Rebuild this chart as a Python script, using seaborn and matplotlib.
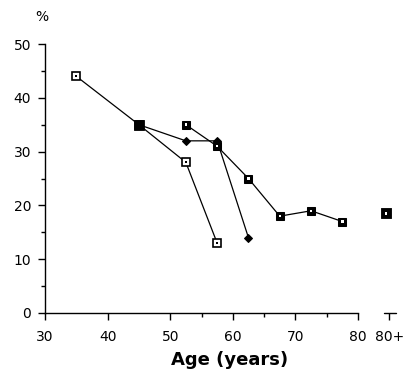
import matplotlib
matplotlib.use("Agg")
import matplotlib.pyplot as plt
import seaborn as sns
import pandas as pd
from matplotlib.transforms import blended_transform_factory

# ---- data ----
open_age = [35, 45, 52.5, 57.5]
open_pct = [44, 35, 28, 13]

diamond_age = [45, 52.5, 57.5, 62.5]
diamond_pct = [35, 32, 32, 14]

filled_age = [52.5, 57.5, 62.5, 67.5, 72.5, 77.5]
filled_pct = [35, 31, 25, 18, 19, 17]

plus_age = [84.5]
plus_pct = [18.5]

x_ticks = [30, 40, 50, 60, 70, 80, 85]
x_ticklabels = ["30", "40", "50", "60", "70", "80", "80+"]
y_ticks = [0, 10, 20, 30, 40, 50]

sns.set_style("ticks")
plt.rcParams['font.family'] = ['DejaVu Sans']

fig = plt.figure(figsize=(4.12, 3.82), dpi=100)
ax = fig.add_axes([45/412, (382-313)/382, (88-30)*6.26/412, (313-44)/382])

df_open = pd.DataFrame({"age": open_age, "pct": open_pct})
df_dia = pd.DataFrame({"age": diamond_age, "pct": diamond_pct})
df_fill = pd.DataFrame({"age": filled_age, "pct": filled_pct})
df_plus = pd.DataFrame({"age": plus_age, "pct": plus_pct})

lw = 0.9
sns.lineplot(data=df_dia, x="age", y="pct", ax=ax, color="black", lw=lw,
             marker="D", markersize=4.5, markerfacecolor="black",
             markeredgecolor="black", clip_on=False)
sns.lineplot(data=df_open, x="age", y="pct", ax=ax, color="black", lw=lw,
             marker="s", markersize=5.5, markerfacecolor="white",
             markeredgecolor="black", markeredgewidth=1.2, clip_on=False)
sns.lineplot(data=df_fill, x="age", y="pct", ax=ax, color="black", lw=lw,
             marker="s", markersize=5.5, markerfacecolor="black",
             markeredgecolor="black", clip_on=False)
sns.scatterplot(data=df_dia.iloc[:1], x="age", y="pct", ax=ax, marker="s",
                s=55, color="black", edgecolor="black", clip_on=False, zorder=5)
sns.scatterplot(data=df_plus, x="age", y="pct", ax=ax, marker="s",
                s=60, color="black", edgecolor="black", clip_on=False, zorder=5)
centres = pd.concat([df_fill, df_plus])
sns.scatterplot(data=centres, x="age", y="pct", ax=ax, marker="s", s=3,
                color="white", edgecolor="none", clip_on=False, zorder=6)
sns.scatterplot(data=df_open, x="age", y="pct", ax=ax, marker="s", s=2,
                color="black", edgecolor="none", clip_on=False, zorder=6)

ax.set_xlim(30, 88)
ax.set_ylim(0, 50)
ax.spines["top"].set_visible(False)
ax.spines["right"].set_visible(False)
ax.spines["bottom"].set_bounds(30, 80)
ax.spines["left"].set_bounds(0, 50)
for s in ("bottom", "left"):
    ax.spines[s].set_linewidth(1.0)
    ax.spines[s].set_color("black")

ax.set_xticks(x_ticks)
ax.set_xticklabels(x_ticklabels)
ax.set_xticks([55, 65, 75], minor=True)
ax.set_yticks(y_ticks)
ax.set_yticks([5, 15, 25, 35, 45], minor=True)
ax.tick_params(axis="both", which="major", direction="out", length=5,
               width=1.0, labelsize=10, colors="black")
ax.tick_params(axis="x", which="major", pad=7)
ax.tick_params(axis="y", which="major", pad=5)
ax.tick_params(axis="both", which="minor", direction="out", length=3,
               width=1.0, colors="black")

trans = blended_transform_factory(ax.transData, ax.transAxes)
ax.plot([84.2, 86.0], [0, 0], color="black", lw=1.0, transform=trans,
        clip_on=False)

ax.set_xlabel("Age (years)", fontsize=13, fontweight="bold", color="black")
ax.xaxis.set_label_coords((59.5 - 30) / 58, -0.14)
ax.set_ylabel("")
fig.text(42/412, 1 - 17/382, "%", fontsize=10, ha="center", va="center",
         color="black")

fig.savefig("out.png", dpi=100, facecolor="white")
